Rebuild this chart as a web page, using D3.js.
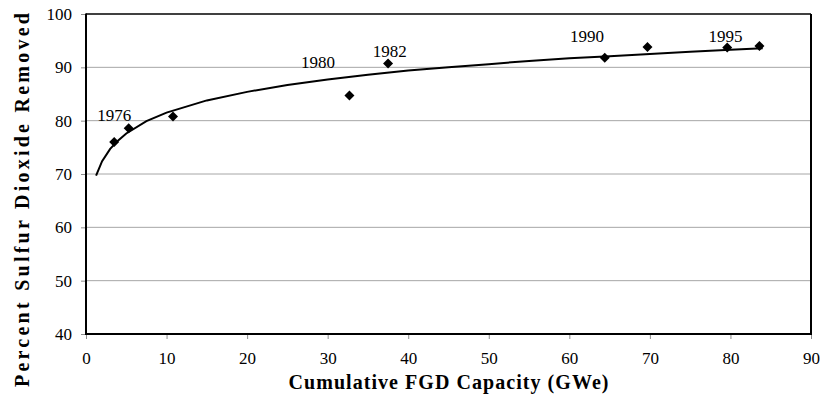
<!DOCTYPE html>
<html>
<head>
<meta charset="utf-8">
<script src="https://cdn.jsdelivr.net/npm/d3@7"></script>
<style>
    body { margin: 0; background: #fff; }
</style>
</head>
<body>
<div class="chart"></div>
<script>
// measured points (GWe, % removed)
const capacity = [3.5, 5.3, 10.8, 32.7, 37.5, 64.4, 69.7, 79.6, 83.6]
const removed = [76.0, 78.6, 80.8, 84.7, 90.7, 91.8, 93.8, 93.7, 94.0]

// trend line
const trendX = [1.25, 2, 3, 4, 5, 7.5, 10, 15, 20, 25, 30, 35, 40, 45, 50, 55, 60, 65, 70, 75, 80, 84]
const trendY = [69.7, 72.4, 74.7, 76.3, 77.6, 79.9, 81.5, 83.8, 85.4, 86.7, 87.7, 88.6, 89.4, 90.0, 90.6, 91.2, 91.7, 92.1, 92.5, 92.9, 93.3, 93.6]

// year annotations
const years = ['1976', '1980', '1982', '1990', '1995']
const yearX = [3.5, 28.8, 37.7, 62.2, 79.4]
const yearY = [79.9, 89.8, 91.9, 94.7, 94.7]

const xTicks = [0, 10, 20, 30, 40, 50, 60, 70, 80, 90]
const yTicks = [40, 50, 60, 70, 80, 90, 100]

const serif = "'Liberation Serif'"

const width = 825,
    height = 400
const margin = { left: 86, right: 14, top: 14, bottom: 66 }

const svg = d3.select('.chart').append('svg')
    .attr('width', width)
    .attr('height', height)

const x = d3.scaleLinear().domain([0, 90]).range([margin.left, width - margin.right])
const y = d3.scaleLinear().domain([40, 100]).range([height - margin.bottom, margin.top])

// grid
svg.append('g')
    .selectAll('line')
    .data(yTicks.slice(1, -1))
    .enter().append('line')
    .attr('x1', x(0))
    .attr('x2', x(90))
    .attr('y1', d => y(d))
    .attr('y2', d => y(d))
    .style('stroke', '#a6a6a6')
    .style('stroke-width', 1)

// axes
const xAxis = svg.append('g')
    .attr('transform', 'translate(0,' + y(40) + ')')
    .call(d3.axisBottom(x).tickValues(xTicks).tickSize(5).tickPadding(10))
const yAxis = svg.append('g')
    .attr('transform', 'translate(' + x(0) + ',0)')
    .call(d3.axisLeft(y).tickValues(yTicks).tickSize(5).tickPadding(9))

;[xAxis, yAxis].forEach(ax => {
    ax.select('.domain').remove()
    ax.selectAll('line').style('stroke', '#8c8c8c')
    ax.selectAll('text')
        .style('font-family', serif)
        .style('font-size', '17px')
        .style('fill', '#000')
})
xAxis.selectAll('text').attr('dy', '0.9em')

// frame
svg.append('line').attr('x1', x(0)).attr('x2', x(90)).attr('y1', y(100)).attr('y2', y(100))
    .style('stroke', '#000').style('stroke-width', 1.3)
svg.append('line').attr('x1', x(90)).attr('x2', x(90)).attr('y1', y(100)).attr('y2', y(40))
    .style('stroke', '#000').style('stroke-width', 2)
svg.append('line').attr('x1', x(0)).attr('x2', x(0)).attr('y1', y(100) - 0.6).attr('y2', y(40) + 1)
    .style('stroke', '#000').style('stroke-width', 2)
svg.append('line').attr('x1', x(0) - 1).attr('x2', x(90) + 1).attr('y1', y(40)).attr('y2', y(40))
    .style('stroke', '#000').style('stroke-width', 2)

// trend line
const line = d3.line()
    .x((d, i) => x(trendX[i]))
    .y(d => y(d))
svg.append('path')
    .datum(trendY)
    .attr('d', line)
    .style('fill', 'none')
    .style('stroke', '#000')
    .style('stroke-width', 2)

// points
const diamond = d3.symbol().type(d3.symbolSquare).size(50)
svg.append('g')
    .selectAll('path')
    .data(capacity)
    .enter().append('path')
    .attr('d', diamond)
    .attr('transform', (d, i) => 'translate(' + x(d) + ',' + y(removed[i]) + ') rotate(45)')
    .style('fill', '#000')

// year labels
svg.append('g')
    .selectAll('text')
    .data(years)
    .enter().append('text')
    .attr('x', (d, i) => x(yearX[i]))
    .attr('y', (d, i) => y(yearY[i]))
    .attr('text-anchor', 'middle')
    .style('font-family', serif)
    .style('font-size', '17px')
    .text(d => d)

// axis titles
svg.append('text')
    .attr('x', (x(0) + x(90)) / 2)
    .attr('y', 389)
    .attr('text-anchor', 'middle')
    .attr('textLength', 320)
    .attr('lengthAdjust', 'spacing')
    .style('font-family', serif)
    .style('font-size', '20px')
    .style('font-weight', 'bold')
    .text('Cumulative FGD Capacity (GWe)')

svg.append('text')
    .attr('transform', 'translate(29,' + 200 + ') rotate(-90)')
    .attr('text-anchor', 'middle')
    .attr('textLength', 374)
    .attr('lengthAdjust', 'spacing')
    .style('font-family', serif)
    .style('font-size', '20px')
    .style('font-weight', 'bold')
    .text('Percent Sulfur Dioxide Removed')
</script>
</body>
</html>
